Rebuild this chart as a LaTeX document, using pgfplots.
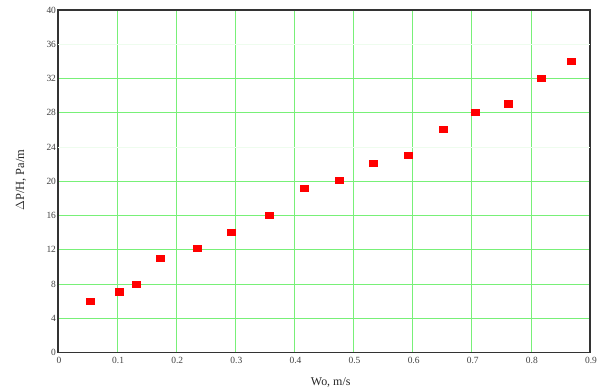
\documentclass[border=0pt]{standalone}
\usepackage{fontspec}
\setmainfont{Liberation Serif}
\usepackage{pgfplots}
\pgfplotsset{compat=1.18}
\definecolor{gridg}{RGB}{120,240,120}
\definecolor{faintg}{RGB}{238,252,238}
\begin{document}
\begin{tikzpicture}[x=1bp,y=1bp]
\begin{axis}[
  scale only axis,
  width=532bp, height=342.5bp,
  xmin=0, xmax=0.9, ymin=0, ymax=40,
  xtick={0,0.1,...,0.9},
  ytick={0,4,8,12,16,20,28,32,40},
  extra y ticks={24,36},
  extra y tick style={major grid style={color=faintg, line width=0.6pt}},
  grid=major,
  major grid style={color=gridg, line width=0.7pt},
  major tick length=0pt,
  axis line style={draw=black!80, line width=1.2pt},
  /pgf/number format/assume math mode=true,
  /pgf/number format/fixed,
  xticklabel style={font=\fontsize{9.5}{10}\selectfont, text=black!75, yshift=-1bp, xshift=1bp},
  yticklabel style={font=\fontsize{9.5}{10}\selectfont, text=black!75, xshift=1.5bp},
  xlabel={Wo, m/s},
  ylabel={$\Delta$P/H, Pa/m},
  xlabel style={font=\fontsize{12}{14}\selectfont, text=black!85, at={(axis description cs:0.5126,0)}, anchor=center, yshift=-30bp},
  ylabel style={font=\fontsize{12.5}{14}\selectfont, text=black!85, at={(axis description cs:-0.0695,0.504)}, anchor=center, rotate=0},
  clip=false,
]
\addplot[only marks, mark=square*, mark options={fill=red, draw=red, xscale=1.25, yscale=0.95}, mark size=3.2bp]
coordinates {
(0.055,6.0) (0.104,7.1) (0.132,8.0) (0.173,11.0) (0.235,12.2)
(0.293,14.1) (0.357,16.05) (0.416,19.2) (0.475,20.1) (0.533,22.1)
(0.593,23.07) (0.652,26.06) (0.706,28.09) (0.762,29.06) (0.817,32.0) (0.869,34.0)
};
\end{axis}
\useasboundingbox ([shift={(-58bp,-39.5bp)}]current axis.south west) rectangle ([shift={(12bp,10bp)}]current axis.north east);
\end{tikzpicture}
\end{document}
